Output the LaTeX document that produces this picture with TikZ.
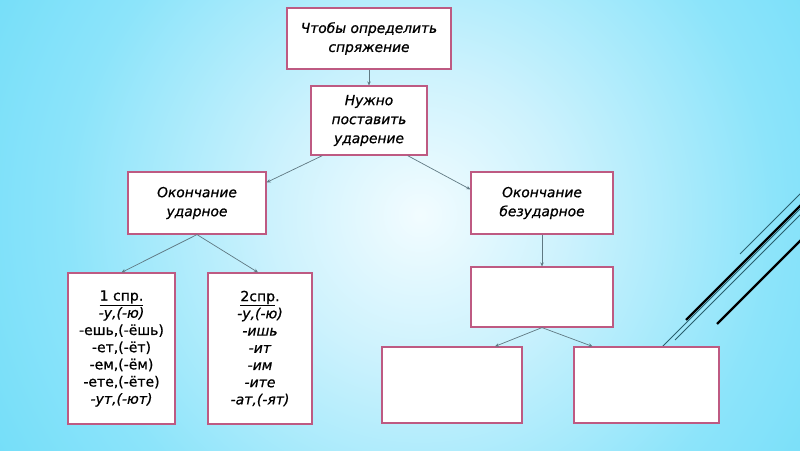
\documentclass[tikz,border=0pt]{standalone}
\usepackage{fontspec}
\setmainfont[FakeBold=0.8]{DejaVu Sans}
\usetikzlibrary{arrows.meta,calc}
\definecolor{bgA}{RGB}{242,252,255}
\definecolor{bgB}{RGB}{205,242,253}
\definecolor{bgC}{RGB}{140,228,250}
\definecolor{bgD}{RGB}{92,216,248}
\definecolor{bgE}{RGB}{68,208,248}
\definecolor{boxc}{RGB}{190,90,130}
\definecolor{arrc}{RGB}{95,120,130}
\definecolor{decoc}{RGB}{40,95,110}
\pgfdeclareradialshading{bgshade}{\pgfpoint{0bp}{0bp}}{color(0bp)=(bgA); color(7bp)=(bgB); color(17bp)=(bgC); color(30bp)=(bgD); color(43bp)=(bgE); color(50bp)=(bgE)}
\begin{document}
\begin{tikzpicture}[x=1pt,y=-1pt,
  box/.style={draw=boxc, line width=1.2pt, fill=white, align=center, inner sep=0pt,
    font=\fontsize{13.8}{19}\selectfont\itshape, text=black},
  listbox/.style={box, font=\fontsize{14}{17.2}\selectfont},
  arr/.style={draw=arrc, line width=0.7pt, -{Stealth[length=4pt,width=3.5pt]}},
  thinline/.style={draw=decoc, line width=0.9pt},
  thickline/.style={draw=black, line width=2.4pt}]
\useasboundingbox (0,0) rectangle (800,450);
\begin{scope}
  \clip (0,0) rectangle (800,450);
  \shade[shading=bgshade] (420,215) circle [radius=520pt];
  \draw[thinline] (740,254) -- (810,184);
  \draw[thickline] (686,320) -- (810,196);
  \draw[thinline] (662,347) -- (810,199);
  \draw[thinline] (675,340) -- (810,205);
  \draw[thickline] (717,324) -- (810,231);
\end{scope}
\node[box, minimum width=164pt, minimum height=61pt] (b1) at (369,38.5) {Чтобы определить\\спряжение};
\node[box, minimum width=116pt, minimum height=69pt] (b2) at (369,120.5) {Нужно\\поставить\\ударение};
\node[box, minimum width=138pt, minimum height=62pt] (b3) at (197,203) {Окончание\\ударное};
\node[box, minimum width=142pt, minimum height=62pt] (b4) at (542,203) {Окончание\\безударное};
\node[listbox, minimum width=107pt, minimum height=151pt] (b5) at (121.5,348.5)
  {\underline{1 спр.}\\\textit{-у,(-ю)}\\-ешь,(-ёшь)\\-ет,(-ёт)\\-ем,(-ём)\\-ете,(-ёте)\\\textit{-ут,(-ют)}};
\node[listbox, minimum width=104pt, minimum height=151pt] (b6) at (260,348.5)
  {\underline{2спр}.\\\textit{-у,(-ю)}\\\textit{-ишь}\\\textit{-ит}\\\textit{-им}\\\textit{-ите}\\\textit{-ат,(-ят)}};
\node[box, minimum width=142pt, minimum height=60pt] (b7) at (542,297) {};
\node[box, minimum width=140pt, minimum height=76pt] (b8) at (452,385) {};
\node[box, minimum width=145pt, minimum height=76pt] (b9) at (646.5,385) {};
\draw[arr] (b1.south) -- (b2.north);
\draw[arr] ([xshift=12pt]b2.south west) -- ([yshift=-11pt]b3.north east);
\draw[arr] ([xshift=-20pt]b2.south east) -- ([yshift=-18pt]b4.north west);
\draw[arr] (b3.south) -- (b5.north);
\draw[arr] (b3.south) -- ([xshift=-2pt]b6.north);
\draw[arr] (b4.south) -- (b7.north);
\draw[arr] (b7.south) -- ([xshift=43pt]b8.north);
\draw[arr] (b7.south) -- ([xshift=-54pt]b9.north);
\end{tikzpicture}
\end{document}
